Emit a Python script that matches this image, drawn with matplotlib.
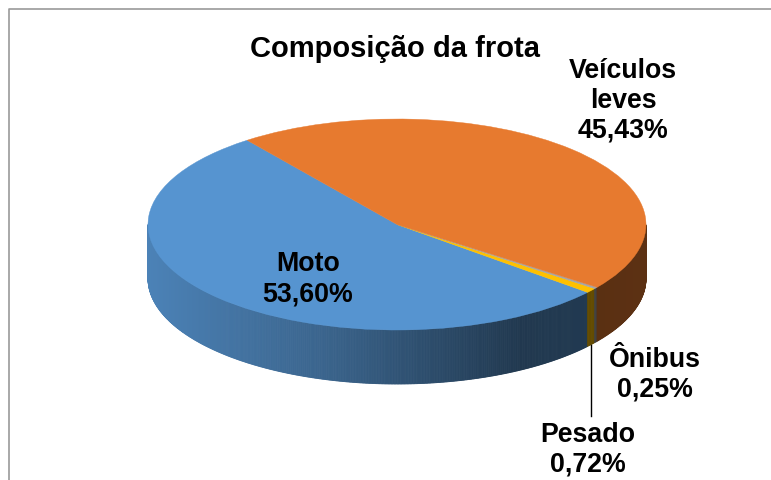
import numpy as np
import matplotlib
matplotlib.use("Agg")
import matplotlib.pyplot as plt
from matplotlib.patches import Wedge, Polygon
from matplotlib.transforms import Affine2D
from matplotlib.colors import to_rgb

# Data
categories = ["Moto", "Pesado", "Ônibus", "Veículos\nleves"]
values = [53.60, 0.72, 0.25, 45.43]
labels = ["53,60%", "0,72%", "0,25%", "45,43%"]
top_colors = ["#5694D0", "#FFC000", "#A5A5A5", "#E77A2F"]
title = "Composição da frota"

W, H = 771, 481
fig = plt.figure(figsize=(W / 100, H / 100), dpi=100, facecolor="white")
ax = fig.add_axes([0, 0, 1, 1])
ax.set_xlim(0, W)
ax.set_ylim(H, 0)
ax.axis("off")
plt.rcParams["font.family"] = ["Liberation Sans"]

# frame
ax.plot([8.5, 8.5, 771], [481, 9.5, 9.5], color="#9a9a9a", lw=1.2, zorder=0)

cx, cy, rx, ry, depth = 397, 225.5, 249, 105.5, 54
start = 127.0


def pt(a, dy=0.0):
    r = np.deg2rad(a)
    return cx + rx * np.cos(r), cy - ry * np.sin(r) + dy


# slice angles (counter-clockwise on screen)
spans = np.array(values) / sum(values) * 360
edges = start + np.concatenate([[0], np.cumsum(spans)])


def shade(col, a):
    """side wall shade by position around the rim"""
    x = np.cos(np.deg2rad(a))
    f = np.interp(x, [-1, -0.3, 0.5, 0.8, 1], [0.88, 0.68, 0.38, 0.39, 0.40])
    return tuple(c * f for c in to_rgb(col))


# side wall: many thin strips per slice, only on the visible (front) half
for i, col in enumerate(top_colors):
    a0, a1 = edges[i], edges[i + 1]
    aa = np.linspace(a0, a1, max(int(a1 - a0) * 3, 2) + 1)
    for p, q in zip(aa[:-1], aa[1:]):
        m = 0.5 * (p + q)
        if np.sin(np.deg2rad(m)) > 0.0:
            continue
        xa, ya = pt(p)
        xb, yb = pt(q)
        ax.add_patch(Polygon([(xa, ya), (xb, yb), (xb, yb + depth), (xa, ya + depth)],
                             closed=True, fc=shade(col, m), ec=shade(col, m), lw=0.6, zorder=2))

# top face: unit wedges mapped on the ellipse
to_ellipse = Affine2D().scale(rx, -ry).translate(cx, cy) + ax.transData
for i, col in enumerate(top_colors):
    ax.add_patch(Wedge((0, 0), 1, edges[i], edges[i + 1], fc=col, ec=col, lw=0.3,
                       transform=to_ellipse, zorder=3))

font = dict(family="Liberation Sans", fontweight="bold", color="black", ha="center", va="center", zorder=5)
ax.text(395, 49, title, fontsize=21, **font)
ax.text(308, 279.5, f"{categories[0]}\n{labels[0]}", fontsize=19.3, linespacing=1.2, **font)
ax.text(623, 101, f"{categories[3]}\n{labels[3]}", fontsize=19.3, linespacing=1.2, **font)
ax.text(655, 375, f"{categories[2]}\n{labels[2]}", fontsize=19.3, linespacing=1.2, **font)
ax.text(588, 450, f"{categories[1]}\n{labels[1]}", fontsize=19.3, linespacing=1.2, **font)

# leader line for the thin slice
lx, ly = pt(0.5 * (edges[1] + edges[2]), depth)
ax.plot([lx, lx], [ly, 417], color="black", lw=1, zorder=4)

fig.savefig("out.png", dpi=100)
